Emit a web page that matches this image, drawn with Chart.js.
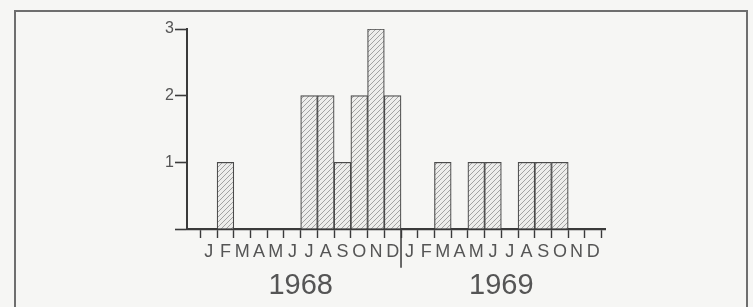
<!DOCTYPE html>
<html>
<head>
<meta charset="utf-8">
<script src="https://cdn.jsdelivr.net/npm/chart.js@4/dist/chart.umd.min.js"></script>
<style>
  html, body { margin: 0; padding: 0; background: #f6f6f4; }
  #wrap { position: relative; width: 753px; height: 307px; overflow: hidden; }
  #frame { position: absolute; left: 14px; top: 10px; width: 734px; height: 320px;
           border: 2.5px solid #6e6e6e; border-bottom: none; box-sizing: border-box; }
  canvas { position: absolute; left: 0; top: 0; }
</style>
</head>
<body>
<div id="wrap">
  <div id="frame"></div>
  <canvas id="c" width="753" height="307"></canvas>
</div>
<script>
// Months Jan 1968 .. Dec 1969
const monthLetters = ['J','F','M','A','M','J','J','A','S','O','N','D'];
const years = ['1968', '1969'];
// counts per month, 1968 then 1969
const counts1968 = [0, 1, 0, 0, 0, 0, 2, 2, 1, 2, 3, 2];
const counts1969 = [0, 0, 1, 0, 1, 1, 0, 1, 1, 1, 0, 0];
const yTicks = [0, 1, 2, 3];
const yTickLabels = ['', '1', '2', '3'];

const counts = counts1968.concat(counts1969);
const monthLabels = monthLetters.concat(monthLetters);
const nMonths = monthLabels.length;

// hatch pattern
function makeHatch() {
  const s = 5;
  const p = document.createElement('canvas');
  p.width = s; p.height = s;
  const g = p.getContext('2d');
  g.fillStyle = '#ededeb';
  g.fillRect(0, 0, s, s);
  g.strokeStyle = '#9a9a9a';
  g.lineWidth = 0.9;
  g.beginPath();
  g.moveTo(0, s); g.lineTo(s, 0);
  g.moveTo(-1, 1); g.lineTo(1, -1);
  g.moveTo(s - 1, s + 1); g.lineTo(s + 1, s - 1);
  g.stroke();
  return document.getElementById('c').getContext('2d').createPattern(p, 'repeat');
}

const lineCol = '#3a3a3a';
const textCol = '#555555';

const ctx = document.getElementById('c').getContext('2d');
new Chart(ctx, {
  type: 'bar',
  data: {
    datasets: [
      {
        type: 'bar',
        data: counts.map((v, i) => ({ x: i + 0.5, y: v })),
        backgroundColor: makeHatch(),
        borderColor: '#4a4a4a',
        borderWidth: 1.2,
        borderSkipped: 'start',
        barPercentage: 1,
        categoryPercentage: 1,
        xAxisID: 'x'
      },
      {
        type: 'line',
        data: [{ x: 12, y: 0 }, { x: 12, y: -0.58 }],
        borderColor: lineCol,
        borderWidth: 1.5,
        pointRadius: [0, 2],
        pointBackgroundColor: lineCol,
        pointBorderWidth: 0,
        clip: false,
        xAxisID: 'x'
      }
    ]
  },
  options: {
    responsive: false,
    animation: false,
    devicePixelRatio: 1,
    layout: { padding: { left: 147, right: 148, top: 29, bottom: 5 } },
    plugins: { legend: { display: false }, tooltip: { enabled: false } },
    scales: {
      x: {
        type: 'linear',
        position: 'bottom',
        offset: false,
        min: -0.8,
        max: 24.2,
        afterBuildTicks: (s) => {
          const t = [];
          for (let i = 0; i <= nMonths; i++) t.push({ value: i });
          s.ticks = t;
        },
        afterFit: (s) => { s.height = 33; },
        ticks: {
          autoSkip: false,
          maxRotation: 0,
          labelOffset: 8.4,
          padding: 3,
          color: textCol,
          font: { family: 'Liberation Sans', size: 18 },
          callback: (v) => (v < nMonths ? monthLabels[v] : '')
        },
        grid: {
          offset: false,
          drawOnChartArea: false,
          drawTicks: true,
          tickLength: 9,
          tickWidth: 1.4,
          tickColor: lineCol
        },
        border: { display: true, color: lineCol, width: 2.2 }
      },
      x2: {
        type: 'linear',
        position: 'bottom',
        offset: false,
        min: -0.8,
        max: 24.2,
        afterBuildTicks: (s) => { s.ticks = [{ value: 6 }, { value: 18 }]; },
        afterFit: (s) => { s.height = 40; },
        ticks: {
          autoSkip: false,
          maxRotation: 0,
          padding: 7,
          color: textCol,
          font: { family: 'Liberation Sans', size: 29 },
          callback: (v) => years[v === 6 ? 0 : 1]
        },
        grid: { display: false, drawTicks: false, offset: false },
        border: { display: false }
      },
      y: {
        min: 0,
        max: 3,
        afterBuildTicks: (s) => { s.ticks = yTicks.map(v => ({ value: v })); },
        afterFit: (s) => { s.width = 40; },
        ticks: {
          padding: 1,
          color: textCol,
          font: { family: 'Liberation Sans', size: 16 },
          callback: (v) => yTickLabels[yTicks.indexOf(v)]
        },
        grid: {
          drawOnChartArea: false,
          drawTicks: true,
          tickLength: 12,
          tickWidth: 1.6,
          tickColor: lineCol
        },
        border: { display: true, color: lineCol, width: 2 }
      }
    }
  }
});
</script>
</body>
</html>
